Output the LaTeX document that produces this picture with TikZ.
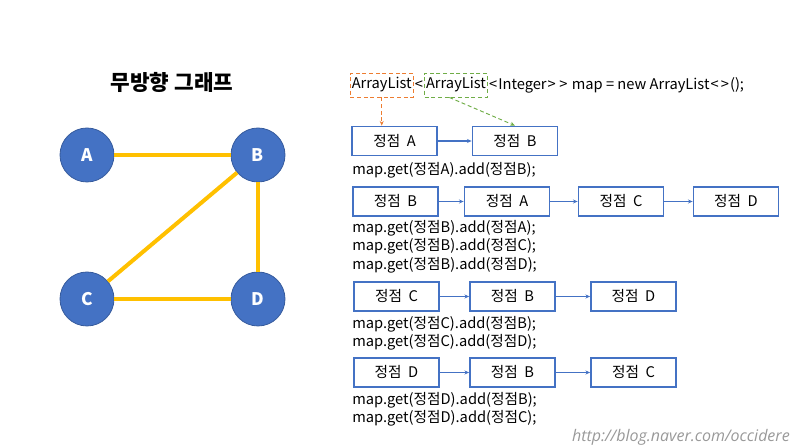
\documentclass[tikz,border=0pt]{standalone}
\usepackage{fontspec}
\setmainfont{Noto Sans CJK KR}
\newfontfamily\wmfont{Open Sans}
\usetikzlibrary{arrows.meta}
\definecolor{nblue}{HTML}{4472C4}
\definecolor{ngold}{HTML}{FFC000}
\definecolor{norange}{HTML}{ED7D31}
\definecolor{ngreen}{HTML}{70AD47}
\newcommand{\ltx}{\kern0.8pt<\kern0.8pt}
\newcommand{\gtx}{\kern0.8pt>\kern0.8pt}
\tikzset{
  vert/.style={circle,fill=nblue,draw=nblue!80!black,line width=0.6pt,minimum size=40.5pt,inner sep=0pt,text=white,font=\bfseries\fontsize{13}{15}\selectfont},
  edge/.style={ngold,line width=3pt},
  lbox/.style={draw=nblue,line width=1.3pt,minimum width=63.75pt,minimum height=21.75pt,inner sep=0pt,font=\fontsize{11}{13}\selectfont},
  link/.style={nblue,line width=0.8pt,-{Stealth[length=3.5pt,width=3pt]}},
  code/.style={anchor=west,inner sep=0pt,font=\fontsize{11}{13}\selectfont},
  cw/.style={inner xsep=1pt,inner ysep=0pt,minimum height=18pt,font=\fontsize{11}{13}\selectfont},
  dashbox/.style={cw,draw,dashed,dash pattern=on 3pt off 2pt,line width=0.7pt},
  darr/.style={dashed,dash pattern=on 3pt off 2pt,line width=0.7pt,-{Stealth[length=3.5pt,width=3pt]}}
}
\begin{document}
\begin{tikzpicture}[x=0.75pt,y=-0.75pt]
\useasboundingbox (0,0) rectangle (800,448);
% title
\node[font=\bfseries\fontsize{16}{19}\selectfont] (title) at (172,82) {무방향 그래프};
% graph
\node[vert] (A) at (87,155) {A};
\node[vert] (B) at (258,155) {B};
\node[vert] (C) at (87,299) {C};
\node[vert] (D) at (258,299) {D};
\draw[edge] (A) -- (B);
\draw[edge] (B) -- (D);
\draw[edge] (C) -- (D);
\draw[edge] (C) -- (B);
% code line
\node[dashbox,draw=norange,anchor=west] (al1) at (350,85) {ArrayList};
\node[cw,anchor=west,inner xsep=0pt] (lt) at (al1.east) {\ltx};
\node[dashbox,draw=ngreen,anchor=west] (al2) at (lt.east) {ArrayList};
\node[cw,anchor=west,inner xsep=0pt] (rest) at (al2.east) {\ltx Integer\gtx\kern1pt\gtx\ map = new ArrayList\ltx\gtx();};
% row 1
\node[lbox] (r1a) at (394.5,141) {정점\ \ A};
\node[lbox] (r1b) at (515,141) {정점\ \ B};
\draw[link] (r1a) -- (r1b);
\draw[darr,norange] (al1.south) -- (al1.south |- r1a.north);
\draw[darr,ngreen] ([xshift=-5pt]al2.south) -- (r1b.north);
\node[code] (t1) at (352,170) {map.get(정점A).add(정점B);};
% row 2
\node[lbox] (r2a) at (395.5,201.5) {정점\ \ B};
\node[lbox] (r2b) at (507,201.5) {정점\ \ A};
\node[lbox] (r2c) at (621,201.5) {정점\ \ C};
\node[lbox] (r2d) at (736,201.5) {정점\ \ D};
\draw[link] (r2a) -- (r2b);
\draw[link] (r2b) -- (r2c);
\draw[link] (r2c) -- (r2d);
\node[code] (t2a) at (352,228) {map.get(정점B).add(정점A);};
\node[code] (t2b) at (352,246.5) {map.get(정점B).add(정점C);};
\node[code] (t2c) at (352,265) {map.get(정점B).add(정점D);};
% row 3
\node[lbox] (r3a) at (396.5,296.5) {정점\ \ C};
\node[lbox] (r3b) at (512.5,296.5) {정점\ \ B};
\node[lbox] (r3c) at (633.5,296.5) {정점\ \ D};
\draw[link] (r3a) -- (r3b);
\draw[link] (r3b) -- (r3c);
\node[code] (t3a) at (352,324) {map.get(정점C).add(정점B);};
\node[code] (t3b) at (352,342) {map.get(정점C).add(정점D);};
% row 4
\node[lbox] (r4a) at (396.5,372.5) {정점\ \ D};
\node[lbox] (r4b) at (512.5,372.5) {정점\ \ B};
\node[lbox] (r4c) at (633.5,372.5) {정점\ \ C};
\draw[link] (r4a) -- (r4b);
\draw[link] (r4b) -- (r4c);
\node[code] (t4a) at (352,400) {map.get(정점D).add(정점B);};
\node[code] (t4b) at (352,418) {map.get(정점D).add(정점C);};
% watermark
\node[anchor=east,inner sep=0pt,text=black!40,font=\wmfont\itshape\fontsize{12}{14}\selectfont] (wm) at (790,437) {http://blog.naver.com/occidere};
\end{tikzpicture}
\end{document}
